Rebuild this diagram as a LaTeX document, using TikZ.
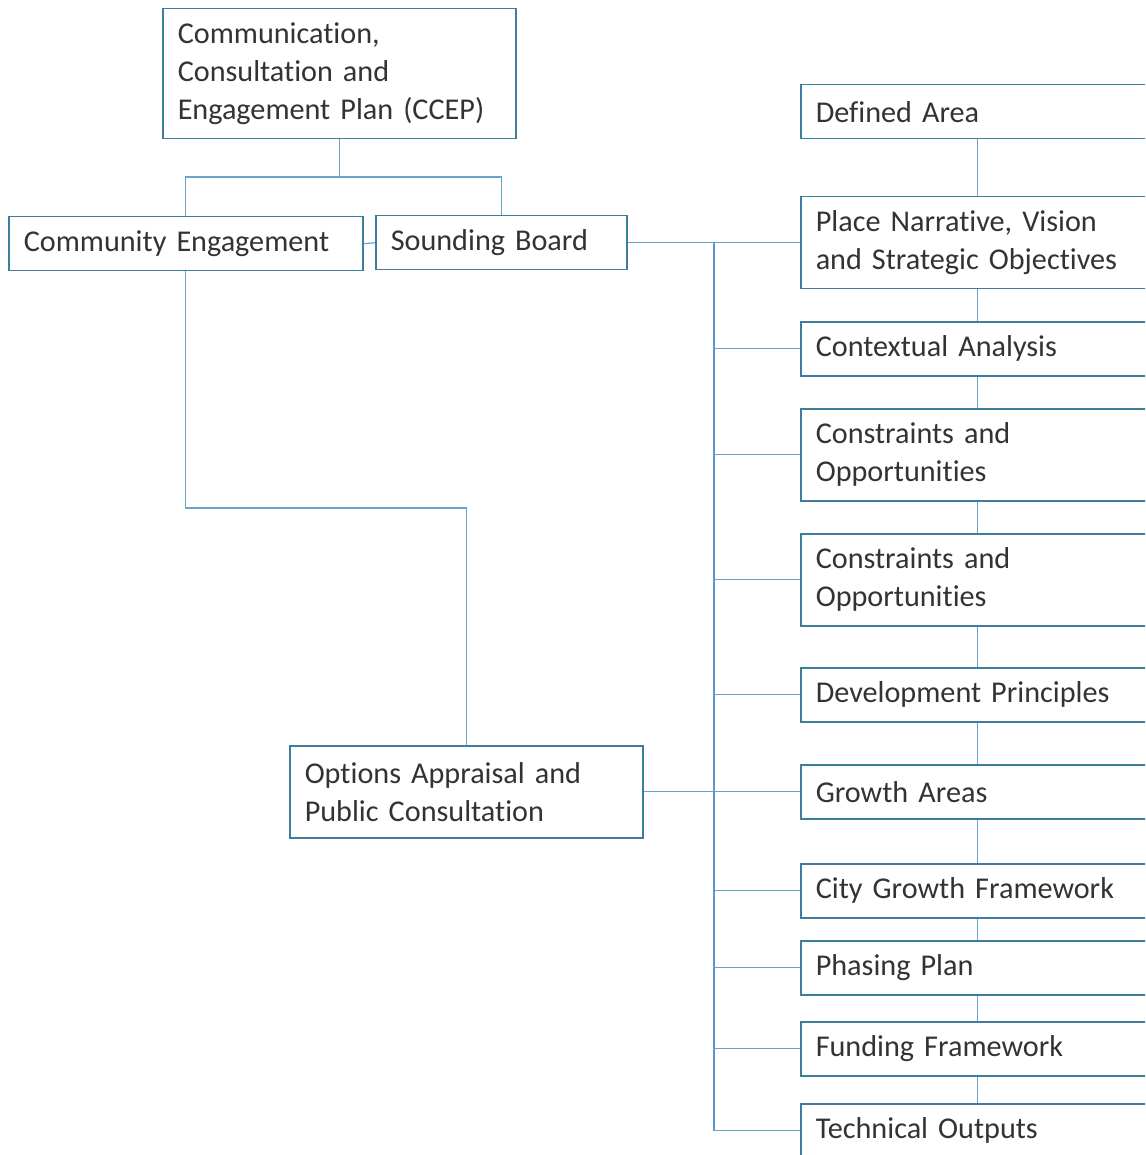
\documentclass[tikz,border=0pt]{standalone}
\usepackage{fontspec}
\setmainfont[Ligatures=NoCommon]{Carlito}
\definecolor{boxline}{HTML}{3E7D9E}
\definecolor{conn}{HTML}{6AA2C8}
\definecolor{busc}{HTML}{5B97CC}
\definecolor{txt}{HTML}{333333}
\begin{document}
\begin{tikzpicture}[x=1pt,y=-1pt,
  bx/.style={draw=boxline, line width=1.5pt, rectangle, anchor=north west, inner xsep=15pt, inner ysep=0pt,
    align=left, text=txt, font=\fontsize{30.2}{38}\selectfont},
  one/.style={bx, minimum height=54pt},
  two/.style={bx, minimum height=92pt},
  rbox/.style={minimum width=354pt, text width=324pt},
  ln/.style={draw=conn, line width=1.2pt},
  busln/.style={draw=busc, line width=2pt}]
\clip (0,0) rectangle (1145,1155);
\fill[white] (0,0) rectangle (1145,1155);
% left side
\node[bx, minimum width=353pt, text width=323pt, minimum height=130pt] (ccep) at (162,8) {Communication,\\Consultation and\\Engagement Plan (CCEP)};
\node[one, minimum width=354pt, text width=324pt] (ce) at (8,216) {Community Engagement};
\node[one, minimum width=251pt, text width=221pt] (sb) at (375,215) {Sounding Board};
\node[two, minimum width=353pt, text width=323pt] (opt) at (289,745) {Options Appraisal and\\Public Consultation};
% right column
\node[one, rbox] (da) at (800,84) {Defined Area};
\node[two, rbox] (pn) at (800,196) {Place Narrative, Vision\\and Strategic Objectives};
\node[one, rbox] (ca) at (800,321) {Contextual Analysis};
\node[two, rbox] (co1) at (800,408) {Constraints and\\Opportunities};
\node[two, rbox] (co2) at (800,533) {Constraints and\\Opportunities};
\node[one, rbox] (dp) at (800,667) {Development Principles};
\node[one, rbox] (ga) at (800,764) {Growth Areas};
\node[one, rbox] (cg) at (800,863) {City Growth Framework};
\node[one, rbox] (pp) at (800,940) {Phasing Plan};
\node[one, rbox] (ff) at (800,1021) {Funding Framework};
\node[one, rbox] (to) at (800,1103) {Technical Outputs};
% connectors left
\draw[ln] (ccep.south) -- (ccep.south |- 0,177) coordinate (split);
\draw[ln] (ce.north) |- (split) -| (sb.north);
\draw[ln] (ce.east) -- (sb.west);
\draw[ln] (ce.south) -- (ce.south |- 0,508) -| (opt.north);
% right column vertical chain
\foreach \a/\b in {da/pn,pn/ca,ca/co1,co1/co2,co2/dp,dp/ga,ga/cg,cg/pp,pp/ff,ff/to}
  \draw[ln] (\a.south) -- (\b.north);
% bus
\coordinate (bus) at (714,242);
\draw[busln] (bus) -- (bus |- to.west);
\draw[ln] (sb.east) -- (pn.west);
\draw[ln] (opt.east) -- (ga.west);
\foreach \n in {ca,co1,co2,dp,cg,pp,ff,to}
  \draw[ln] (bus |- \n.west) -- (\n.west);
\end{tikzpicture}
\end{document}
